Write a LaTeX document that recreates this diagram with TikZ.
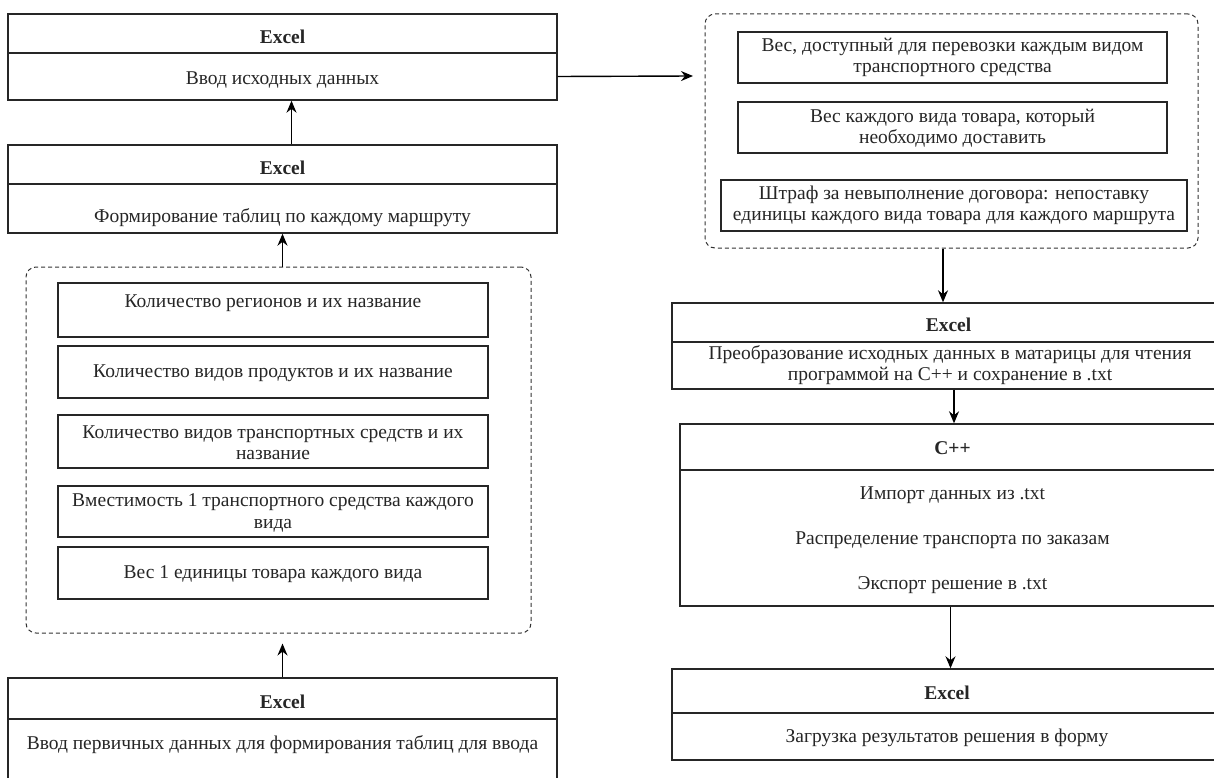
\documentclass[tikz,border=0pt]{standalone}
\usepackage{fontspec}
\setmainfont{Liberation Serif}
\usetikzlibrary{arrows.meta}
\begin{document}
\begin{tikzpicture}[x=1pt,y=-1pt,
  frame/.style={draw=black!85, line width=1.4pt, inner sep=0pt, fill=white},
  grp/.style={draw=black!80, line width=1pt, dash pattern=on 4pt off 3pt, rounded corners=10pt},
  txt/.style={inner sep=0pt, align=center, text=black!85, font=\fontsize{19.5}{21.5}\selectfont},
  hdr/.style={txt, font=\fontsize{19.5}{21.5}\selectfont\bfseries},
  arr/.style={draw=black, line width=1.4pt, -{Stealth[length=12pt,width=10pt]}}]
\useasboundingbox (0,0) rectangle (1214,778);
\clip (0,0) rectangle (1214,778);
\fill[white] (0,0) rectangle (1214,778);
% ---------- left column ----------
\node[frame, minimum width=549pt, minimum height=39pt] (b1h) at (282.5,33.5) {};
\node[frame, minimum width=549pt, minimum height=47pt] (b1b) at (282.5,76.5) {};
\node[hdr] (t1h) at (282.5,37) {Excel};
\node[txt] (t1b) at (282.5,80) {Ввод исходных данных};

\node[frame, minimum width=549pt, minimum height=39pt] (b2h) at (282.5,164.5) {};
\node[frame, minimum width=549pt, minimum height=49pt] (b2b) at (282.5,208.5) {};
\node[hdr] (t2h) at (282.5,168) {Excel};
\node[txt] (t2b) at (282.5,218) {Формирование таблиц по каждому маршруту};

\node[grp, minimum width=505pt, minimum height=366pt] (gL) at (278.5,450) {};
\node[frame, minimum width=430pt, minimum height=54pt] (la) at (273,310) {};
\node[txt] (lat) at (273,303) {Количество регионов и их название};
\node[frame, minimum width=430pt, minimum height=52pt] (lb) at (273,372) {};
\node[txt] (lbt) at (273,373) {Количество видов продуктов и их название};
\node[frame, minimum width=430pt, minimum height=53pt] (lc) at (273,441.5) {};
\node[txt] (lct) at (273,442.5) {Количество видов транспортных средств и их\\название};
\node[frame, minimum width=430pt, minimum height=51pt] (ld) at (273,511.5) {};
\node[txt] (ldt) at (273,513) {Вместимость 1 транспортного средства каждого\\вида};
\node[frame, minimum width=430pt, minimum height=52pt] (le) at (273,573) {};
\node[txt] (let) at (273,574) {Вес 1 единицы товара каждого вида};

\node[frame, minimum width=549pt, minimum height=41pt] (b7h) at (282.5,698.5) {};
\node[frame, minimum width=549pt, minimum height=81pt] (b7b) at (282.5,759.5) {};
\node[hdr] (t7h) at (282.5,702) {Excel};
\node[txt] (t7b) at (282.5,745) {Ввод первичных данных для формирования таблиц для ввода};

\draw[arr] ([xshift=9pt]b2h.north) -- ([xshift=9pt]b1b.south);
\draw[arr] (b2b.south |- gL.north) -- (b2b.south);
\coordinate (gLbot) at ([yshift=-10pt]gL.south);
\draw[arr] (b7h.north) -- (b7h.north |- gLbot);

% ---------- right column ----------
\node[grp, minimum width=493pt, minimum height=234pt] (gR) at (951.5,131) {};
\node[frame, minimum width=429pt, minimum height=51pt] (ra) at (952.5,57.5) {};
\node[txt] (rat) at (952.5,57.5) {Вес, доступный для перевозки каждым видом\\транспортного средства};
\node[frame, minimum width=429pt, minimum height=51pt] (rb) at (952.5,127.5) {};
\node[txt] (rbt) at (952.5,128) {Вес каждого вида товара, который\\необходимо доставить};
\node[frame, minimum width=466pt, minimum height=51pt] (rc) at (954,205.5) {};
\node[txt] (rct) at (954,205.5) {Штраф за невыполнение договора: непоставку\\единицы каждого вида товара для каждого маршрута};

\coordinate (ax) at (693,76);
\draw[arr] (b1b.east) -- (ax);

\node[frame, minimum width=553pt, minimum height=39pt] (r1h) at (948.5,322.5) {};
\node[frame, minimum width=553pt, minimum height=47pt] (r1b) at (948.5,365.5) {};
\node[hdr] (r1ht) at (948.5,325) {Excel};
\node[txt] (r1bt) at (950,365) {Преобразование исходных данных в матарицы для чтения\\программой на С++ и сохранение в .txt};

\node[frame, minimum width=545pt, minimum height=46pt] (r2h) at (952.5,447) {};
\node[frame, minimum width=545pt, minimum height=136pt] (r2b) at (952.5,538) {};
\node[hdr] (r2ht) at (952.5,448) {C++};
\node[txt] (r2t1) at (952.5,495) {Импорт данных из .txt};
\node[txt] (r2t2) at (952.5,540) {Распределение транспорта по заказам};
\node[txt] (r2t3) at (952.5,585) {Экспорт решение в .txt};

\node[frame, minimum width=550pt, minimum height=44pt] (r3h) at (947,691) {};
\node[frame, minimum width=550pt, minimum height=47pt] (r3b) at (947,736.5) {};
\node[hdr] (r3ht) at (947,693) {Excel};
\node[txt] (r3bt) at (947,738) {Загрузка результатов решения в форму};

\draw[arr] ([xshift=-8.5pt]gR.south) -- ([xshift=-8.5pt]gR.south |- r1h.north);
\draw[arr] ([xshift=5.5pt]r1b.south) -- ([xshift=5.5pt]r1b.south |- r2h.north);
\draw[arr] ([xshift=-2pt]r2b.south) -- ([xshift=-2pt]r2b.south |- r3h.north);
\end{tikzpicture}
\end{document}
